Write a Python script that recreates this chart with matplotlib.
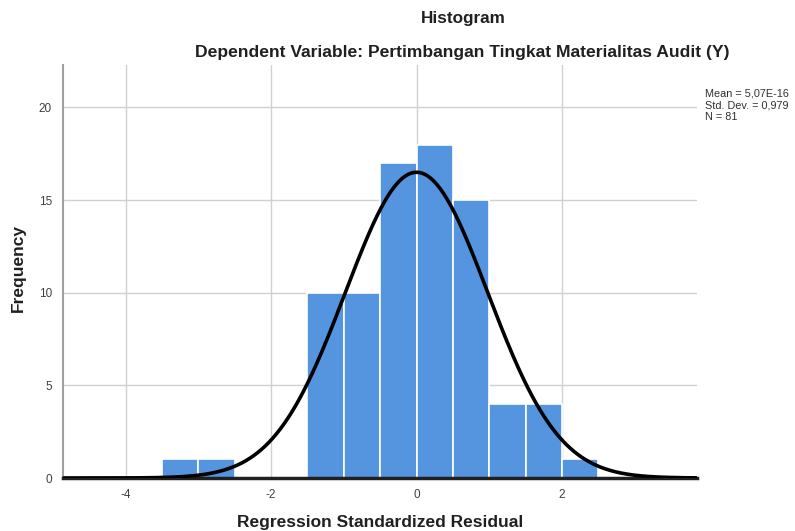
import numpy as np
import matplotlib
matplotlib.use("Agg")
import matplotlib.pyplot as plt

bin_edges = [-3.5, -3.0, -2.5, -2.0, -1.5, -1.0, -0.5, 0.0, 0.5, 1.0, 1.5, 2.0, 2.5]
counts = [1, 1, 0, 0, 10, 10, 17, 18, 15, 4, 4, 1]
mean = 5.07e-16
std = 0.979
n = 81
xticks = [-4, -2, 0, 2]
yticks = [0, 5, 10, 15, 20]

plt.rcParams['font.family'] = ['Liberation Sans', 'DejaVu Sans']

fig = plt.figure(figsize=(7.95, 5.31), dpi=100)
ax = fig.add_axes([0.0792, 0.0998, 0.798, 0.778])

lefts = np.array(bin_edges[:-1])
widths = np.diff(bin_edges)
ax.bar(lefts, counts, width=widths, align='edge', color='#5595E0',
       edgecolor='white', linewidth=1.2, zorder=2)

xs = np.linspace(-4.86, 3.86, 500)
bw = widths[0]
ys = n * bw / (std * np.sqrt(2 * np.pi)) * np.exp(-0.5 * ((xs - mean) / std) ** 2)
ax.plot(xs, ys, color='black', lw=2.6, zorder=3)

ax.set_xlim(-4.86, 3.86)
ax.set_ylim(0, 22.3)
ax.set_xticks(xticks)
ax.set_yticks(yticks)
ax.set_xticklabels([str(t) for t in xticks])
ax.grid(True, color='#d0d0d0', lw=1, zorder=0)
ax.set_axisbelow(True)
ax.tick_params(length=0, labelsize=8.5, colors='#404040', pad=8)
ax.spines['top'].set_visible(False)
ax.spines['right'].set_visible(False)
ax.spines['left'].set_color('#a0a0a0')
ax.spines['left'].set_linewidth(1.5)
ax.spines['bottom'].set_color('#202020')
ax.spines['bottom'].set_linewidth(2.5)

fig.text(18 / 795, 1 - 268 / 531, 'Frequency', rotation=90, ha='center', va='center',
         fontsize=12.5, fontweight='bold', color='#202020')
fig.text(380 / 795, 1 - 522 / 531, 'Regression Standardized Residual', ha='center',
         va='center', fontsize=12.5, fontweight='bold', color='#202020')

fig.text(463 / 795, 1 - 18 / 531, 'Histogram', ha='center', va='center', fontsize=12.3,
         fontweight='bold', color='#202020')
fig.text(462.5 / 795, 1 - 53 / 531, 'Dependent Variable: Pertimbangan Tingkat Materialitas Audit (Y)',
         ha='center', va='center', fontsize=12.6, fontweight='bold', color='#202020')

fig.text(705 / 795, 1 - 89 / 531, 'Mean = 5,07E-16\nStd. Dev. = 0,979\nN = 81', ha='left', va='top',
         fontsize=7.8, color='#303030', linespacing=1.2)

fig.savefig('out.png', dpi=100)
